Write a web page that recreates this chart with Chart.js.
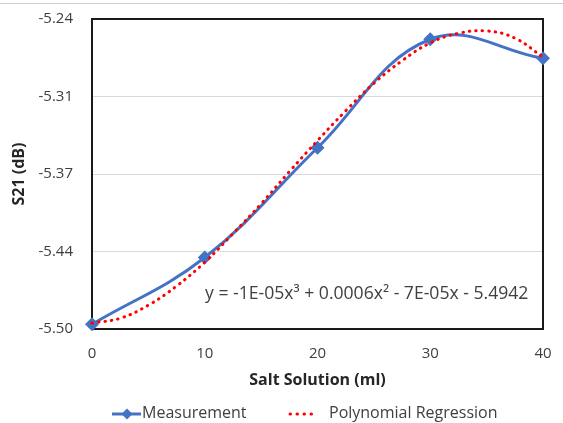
<!DOCTYPE html>
<html>
<head>
<meta charset="utf-8">
<script src="https://cdn.jsdelivr.net/npm/chart.js@4/dist/chart.umd.min.js"></script>
<style>
  html, body { margin: 0; padding: 0; background: #ffffff; }
  canvas { display: block; }
</style>
</head>
<body>
<canvas id="c" width="563" height="423"></canvas>
<script>
// Salt solution volume (ml) and measured S21 (dB)
const volumes = [0, 10, 20, 30, 40];
const measurement = [-5.496, -5.440, -5.348, -5.257, -5.273];

// Third-order polynomial regression curve, sampled every 2.5 ml
const fitVolumes = [0, 2.5, 5, 7.5, 10, 12.5, 15, 17.5, 20, 22.5, 25, 27.5, 30, 32.5, 35, 37.5, 40];
const fitValues = [-5.495, -5.491, -5.480, -5.464, -5.444, -5.420, -5.395, -5.368, -5.342,
                   -5.317, -5.294, -5.275, -5.260, -5.252, -5.250, -5.256, -5.272];

// Axis ticks
const xTicks = [0, 10, 20, 30, 40];
const yTickValues = [-5.50, -5.435, -5.37, -5.305, -5.24];
const yTickLabels = ['-5.50', '-5.44', '-5.37', '-5.31', '-5.24'];

const equationText = 'y = -1E-05x\u00B3 + 0.0006x\u00B2 - 7E-05x - 5.4942';
const seriesNames = ['Measurement', 'Polynomial Regression'];

const BLUE = '#4472C4';
const RED = '#FF0000';
const FONT = "'Open Sans', 'Noto Sans', sans-serif";

// the plot frame is placed by the layout padding alone
function clearScalePadding(s) {
  s.paddingTop = 0;
  s.paddingBottom = 0;
  s.paddingLeft = 0;
  s.paddingRight = 0;
}

const chartDecor = {
  id: 'chartDecor',
  beforeDraw(chart) {
    const ctx = chart.ctx;
    ctx.save();
    ctx.fillStyle = '#ffffff';
    ctx.fillRect(0, 0, chart.width, chart.height);
    // thin outer frame line
    ctx.strokeStyle = '#d0d0d0';
    ctx.lineWidth = 1;
    ctx.beginPath();
    ctx.moveTo(0, 3.5);
    ctx.lineTo(chart.width, 3.5);
    ctx.stroke();
    ctx.restore();
  },
  beforeDatasetsDraw(chart) {
    const {ctx, chartArea: a} = chart;
    ctx.save();
    ctx.strokeStyle = '#1a1a1a';
    ctx.lineWidth = 2;
    ctx.strokeRect(a.left, a.top, a.right - a.left, a.bottom - a.top);
    ctx.restore();
  },
  afterDraw(chart) {
    const {ctx, chartArea: a} = chart;
    ctx.save();
    // regression equation
    ctx.fillStyle = '#404040';
    ctx.font = '17.6px ' + FONT;
    ctx.textAlign = 'left';
    ctx.textBaseline = 'middle';
    ctx.fillText(equationText, a.left + 113, a.top + 275);

    // legend
    const ly = 414;
    ctx.lineCap = 'butt';
    ctx.strokeStyle = BLUE;
    ctx.lineWidth = 3;
    ctx.beginPath();
    ctx.moveTo(112, ly);
    ctx.lineTo(141, ly);
    ctx.stroke();
    ctx.fillStyle = BLUE;
    ctx.beginPath();
    ctx.moveTo(127, ly - 5.5);
    ctx.lineTo(132.5, ly);
    ctx.lineTo(127, ly + 5.5);
    ctx.lineTo(121.5, ly);
    ctx.closePath();
    ctx.fill();

    ctx.strokeStyle = RED;
    ctx.lineWidth = 3;
    ctx.lineCap = 'round';
    ctx.setLineDash([0.5, 6.5]);
    ctx.beginPath();
    ctx.moveTo(290, ly);
    ctx.lineTo(316, ly);
    ctx.stroke();
    ctx.setLineDash([]);

    ctx.fillStyle = '#404040';
    ctx.font = '16px ' + FONT;
    ctx.textBaseline = 'middle';
    ctx.fillText(seriesNames[0], 142, ly - 1);
    ctx.fillText(seriesNames[1], 329, ly - 1);
    ctx.restore();
  }
};

new Chart(document.getElementById('c'), {
  type: 'line',
  data: {
    datasets: [
      {
        label: seriesNames[1],
        data: fitVolumes.map((x, i) => ({x, y: fitValues[i]})),
        borderColor: RED,
        borderWidth: 3,
        borderDash: [0.5, 6],
        borderCapStyle: 'round',
        pointRadius: 0,
        tension: 0.4,
        fill: false,
        clip: false,
        order: 0
      },
      {
        label: seriesNames[0],
        data: volumes.map((x, i) => ({x, y: measurement[i]})),
        borderColor: BLUE,
        backgroundColor: BLUE,
        borderWidth: 3,
        pointStyle: 'rectRot',
        pointRadius: 7,
        pointBorderWidth: 0,
        pointBackgroundColor: BLUE,
        tension: 0.4,
        fill: false,
        clip: false,
        order: 1
      }
    ]
  },
  options: {
    responsive: false,
    animation: false,
    devicePixelRatio: 1,
    layout: { padding: { left: 0, top: 19, right: 20, bottom: 30 } },
    plugins: { legend: { display: false }, tooltip: { enabled: false } },
    scales: {
      x: {
        type: 'linear',
        min: 0,
        max: 40,
        afterBuildTicks: s => { s.ticks = xTicks.map(v => ({value: v})); },
        afterFit: s => { s.height = 64; clearScalePadding(s); },
        grid: { display: false, drawTicks: false },
        border: { display: false },
        ticks: { color: '#404040', font: { family: FONT, size: 15 }, padding: 16, maxRotation: 0 },
        title: {
          display: true,
          text: 'Salt Solution (ml)',
          color: '#262626',
          font: { family: FONT, size: 16, weight: 'bold' },
          padding: { top: 0, bottom: 3 }
        }
      },
      y: {
        type: 'linear',
        min: -5.50,
        max: -5.24,
        afterBuildTicks: s => { s.ticks = yTickValues.map(v => ({value: v})); },
        afterFit: s => { s.width = 92; clearScalePadding(s); },
        grid: { color: '#d9d9d9', lineWidth: 1, drawTicks: false },
        border: { display: false },
        ticks: {
          color: '#404040',
          font: { family: FONT, size: 15 },
          padding: 19,
          callback: (v, i) => yTickLabels[i]
        },
        title: {
          display: true,
          text: 'S21 (dB)',
          color: '#262626',
          font: { family: FONT, size: 16, weight: 'bold' },
          padding: { top: 10, bottom: 0 }
        }
      }
    }
  },
  plugins: [chartDecor]
});
</script>
</body>
</html>
